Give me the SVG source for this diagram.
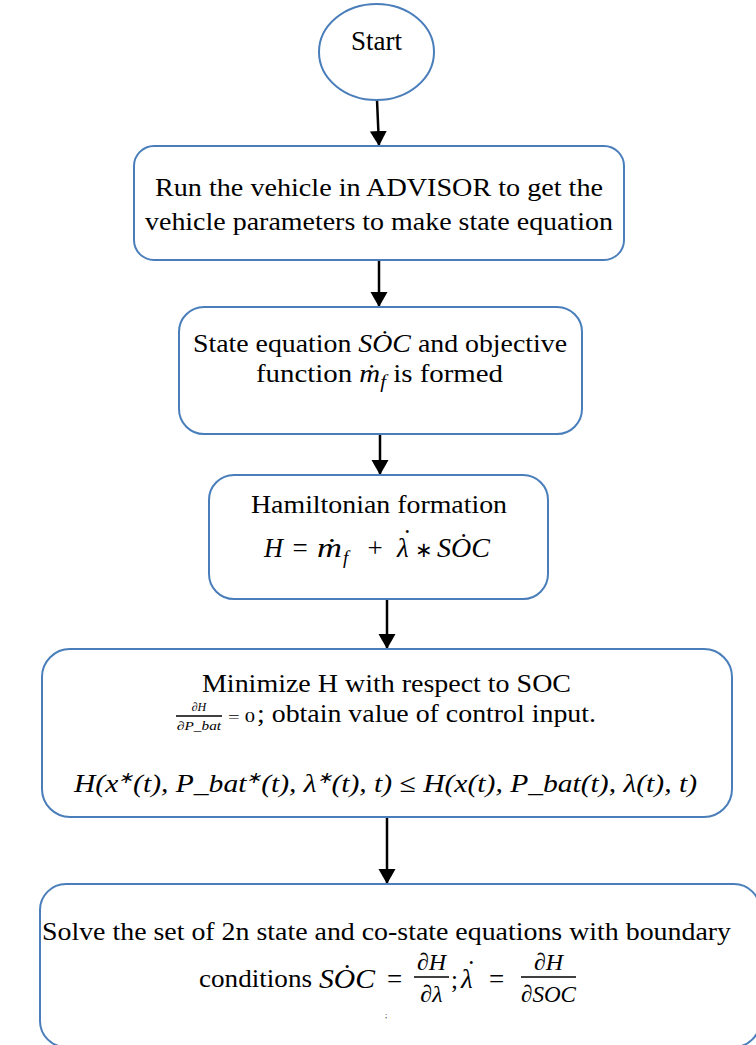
<svg xmlns="http://www.w3.org/2000/svg" width="756" height="1045" viewBox="0 0 756 1045">
  <style>
    .node { fill: #ffffff; stroke: #4a7ebb; stroke-width: 2; }
    .t { font-family: "Liberation Serif", "Times New Roman", serif; font-size: 25px; fill: #000000; }
    .c { text-anchor: middle; }
    .m { font-family: "Liberation Serif", "Times New Roman", serif; font-style: italic; }
    .up { font-style: normal; }
    .bar { stroke: #000000; stroke-width: 1.3; }
    .edge { stroke: #000000; stroke-width: 2.5; fill: none; marker-end: url(#arrow); }
  </style>
  <defs>
    <marker id="arrow" markerUnits="userSpaceOnUse" markerWidth="16" markerHeight="18" refX="15" refY="8.5" orient="auto">
      <path d="M0,0 L15,8.5 L0,17 Z" fill="#000000"/>
    </marker>
  </defs>

  <!-- flow connectors -->
  <g id="connectors">
    <line class="edge" x1="377" y1="100" x2="379" y2="146"/>
    <line class="edge" x1="379" y1="260" x2="379" y2="307"/>
    <line class="edge" x1="380" y1="434" x2="380" y2="475"/>
    <line class="edge" x1="387" y1="599" x2="387" y2="649"/>
    <line class="edge" x1="387" y1="817" x2="387" y2="884"/>
  </g>

  <g id="start">
    <ellipse class="node" cx="376.5" cy="52" rx="57.5" ry="48"/>
    <text class="t c" x="376.5" y="50" style="font-size:28px" textLength="51" lengthAdjust="spacingAndGlyphs">Start</text>
  </g>

  <g id="run-advisor">
    <rect class="node" x="134" y="146" width="490" height="114" rx="20"/>
    <text class="t c" x="379" y="196" textLength="448" lengthAdjust="spacingAndGlyphs">Run the vehicle in ADVISOR to get the</text>
    <text class="t c" x="379" y="230" textLength="468" lengthAdjust="spacingAndGlyphs">vehicle parameters to make state equation</text>
  </g>

  <g id="state-equation">
    <rect class="node" x="179" y="307" width="403" height="127" rx="25"/>
    <text class="t c" x="380" y="352" textLength="374" lengthAdjust="spacingAndGlyphs">State equation <tspan class="m">SȮC</tspan> and objective</text>
    <text class="t c" x="379.5" y="382" textLength="247" lengthAdjust="spacingAndGlyphs">function <tspan class="m">ṁ</tspan><tspan class="m" dy="6" style="font-size:18px">f</tspan><tspan dy="-6"> is formed</tspan></text>
  </g>

  <g id="hamiltonian">
    <rect class="node" x="209" y="475" width="339" height="124" rx="25"/>
    <text class="t c" x="379" y="513" textLength="256" lengthAdjust="spacingAndGlyphs">Hamiltonian formation</text>
    <!-- H = m-dot_f + lambda-dot * SOC-dot, set piece by piece -->
    <text class="t m" x="264" y="557" style="font-size:27px" textLength="19" lengthAdjust="spacingAndGlyphs">H</text>
    <text class="t c" x="300" y="557" style="font-size:27px">=</text>
    <text class="t m" x="317" y="557" style="font-size:27px" textLength="25" lengthAdjust="spacingAndGlyphs">ṁ</text>
    <text class="t m" x="343" y="564" style="font-size:19px">f</text>
    <text class="t c" x="375" y="557" style="font-size:27px">+</text>
    <text class="t m" x="397" y="557" style="font-size:27px">λ<tspan class="up" dx="-6" dy="-9">˙</tspan></text>
    <text class="t c" x="424" y="557" style="font-size:21px">∗</text>
    <text class="t m" x="437" y="557" style="font-size:27px" textLength="53" lengthAdjust="spacingAndGlyphs">SȮC</text>
  </g>

  <g id="minimize">
    <rect class="node" x="42" y="649" width="690" height="168" rx="28"/>
    <text class="t c" x="386.5" y="692" textLength="369" lengthAdjust="spacingAndGlyphs">Minimize H with respect to SOC</text>
    <text class="t c m" x="199" y="711" style="font-size:12px">∂H</text>
    <line class="bar" x1="176" y1="716" x2="222" y2="716"/>
    <text class="t c m" x="199" y="730" style="font-size:12px" textLength="44" lengthAdjust="spacingAndGlyphs">∂P_bat</text>
    <text class="t" x="228" y="722" style="font-size:15px" textLength="27" lengthAdjust="spacingAndGlyphs">= 0</text>
    <text class="t" x="257" y="722" textLength="339" lengthAdjust="spacingAndGlyphs">; obtain value of control input.</text>
    <text class="t c m" x="385.5" y="792" style="font-size:26px" textLength="623" lengthAdjust="spacingAndGlyphs">H(x<tspan dy="-9" style="font-size:16px">∗</tspan><tspan dy="9">(t), P_bat</tspan><tspan dy="-9" style="font-size:16px">∗</tspan><tspan dy="9">(t), λ</tspan><tspan dy="-9" style="font-size:16px">∗</tspan><tspan dy="9">(t), t) </tspan><tspan class="up">≤</tspan> H(x(t), P_bat(t), λ(t), t)</text>
  </g>

  <g id="solve">
    <rect class="node" x="40" y="884" width="720" height="163" rx="26"/>
    <text class="t c" x="386.5" y="940" textLength="689" lengthAdjust="spacingAndGlyphs">Solve the set of 2n state and co-state equations with boundary</text>
    <text class="t" x="199" y="987" textLength="113" lengthAdjust="spacingAndGlyphs">conditions</text>
    <text class="t m" x="319" y="988" style="font-size:27px" textLength="56" lengthAdjust="spacingAndGlyphs">SȮC</text>
    <text class="t c" x="394.5" y="988" style="font-size:27px">=</text>
    <text class="t c m" x="431.5" y="970" style="font-size:24px">∂H</text>
    <line class="bar" x1="414" y1="977" x2="449" y2="977"/>
    <text class="t c m" x="431.5" y="1002" style="font-size:24px">∂λ</text>
    <text class="t" x="451" y="988">;</text>
    <text class="t m" x="461" y="988" style="font-size:27px">λ<tspan class="up" dx="-6" dy="-9">˙</tspan></text>
    <text class="t c" x="496.5" y="988" style="font-size:27px">=</text>
    <text class="t c m" x="548.5" y="970" style="font-size:24px">∂H</text>
    <line class="bar" x1="521" y1="977" x2="576" y2="977"/>
    <text class="t c m" x="548.5" y="1002" style="font-size:24px" textLength="55" lengthAdjust="spacingAndGlyphs">∂SOC</text>
    <text class="t c" x="386" y="1018" style="font-size:8px">;</text>
  </g>
</svg>
